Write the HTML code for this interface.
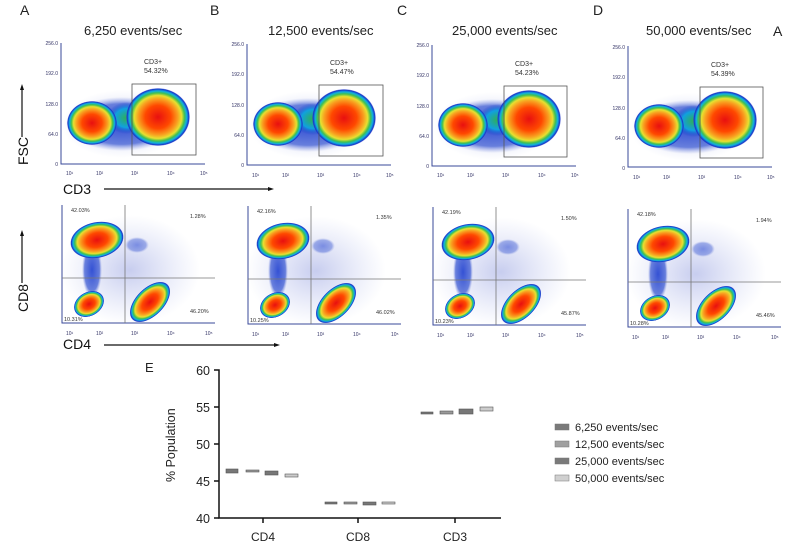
<!DOCTYPE html>
<html><head><meta charset="utf-8"><style>
body{margin:0;background:#fff;width:800px;height:550px;overflow:hidden}
svg{display:block;font-family:"Liberation Sans",sans-serif}
.t{font-size:5px;fill:#336}
</style></head><body>
<svg width="800" height="550" viewBox="0 0 800 550">
<defs>
<radialGradient id="hm">
<stop offset="0" stop-color="#e81010"/>
<stop offset="0.4" stop-color="#ff4800"/>
<stop offset="0.62" stop-color="#f8a020"/>
<stop offset="0.74" stop-color="#e8e030"/>
<stop offset="0.83" stop-color="#40c050"/>
<stop offset="0.9" stop-color="#10b0e0"/>
<stop offset="0.97" stop-color="#1830c8"/>
<stop offset="1" stop-color="#4050d0" stop-opacity="0"/>
</radialGradient>
<radialGradient id="halo">
<stop offset="0" stop-color="#2040d0" stop-opacity="0.9"/>
<stop offset="0.75" stop-color="#3050d0" stop-opacity="0.7"/>
<stop offset="1" stop-color="#8090e0" stop-opacity="0"/>
</radialGradient>
<radialGradient id="haze">
<stop offset="0" stop-color="#6070d0" stop-opacity="0.35"/>
<stop offset="1" stop-color="#8090e0" stop-opacity="0"/>
</radialGradient>
<radialGradient id="grn">
<stop offset="0" stop-color="#30b050"/>
<stop offset="0.6" stop-color="#10a0e0"/>
<stop offset="1" stop-color="#1830c8" stop-opacity="0"/>
</radialGradient>
<g id="top">
<ellipse cx="122" cy="124" rx="60" ry="34" fill="url(#haze)"/>
<ellipse cx="122" cy="124" rx="56" ry="27" fill="url(#halo)"/>
<ellipse cx="127" cy="118" rx="20" ry="16" fill="url(#grn)"/>
<ellipse cx="92" cy="123" rx="25" ry="22" fill="url(#hm)"/>
<ellipse cx="158" cy="117" rx="32" ry="29" fill="url(#hm)"/>
<polyline points="61,43 61,164 205,164" fill="none" stroke="#3a4a9a" stroke-width="1"/>
</g>
<g id="bot">
<ellipse cx="130" cy="270" rx="70" ry="55" fill="url(#haze)"/>
<ellipse cx="92" cy="270" rx="10" ry="28" fill="url(#halo)"/>
<ellipse cx="137" cy="245" rx="12" ry="8" fill="url(#halo)" opacity="0.6"/>
<ellipse cx="97" cy="240" rx="27" ry="18" fill="url(#hm)" transform="rotate(-12 97 240)"/>
<ellipse cx="89" cy="304" rx="16" ry="12" fill="url(#hm)" transform="rotate(-30 89 304)"/>
<ellipse cx="150" cy="302" rx="25" ry="14" fill="url(#hm)" transform="rotate(-45 150 302)"/>
<polyline points="62,205 62,323 215,323" fill="none" stroke="#3a4a9a" stroke-width="1"/>
<line x1="125" y1="205" x2="125" y2="323" stroke="#777" stroke-width="0.8"/>
<line x1="62" y1="278" x2="215" y2="278" stroke="#777" stroke-width="0.8"/>
</g>
</defs>

<g font-size="14" fill="#222">
<text x="20" y="15">A</text><text x="210" y="15">B</text><text x="397" y="15">C</text><text x="593" y="15">D</text><text x="773" y="36">A</text>
<text x="84" y="35" font-size="13">6,250 events/sec</text>
<text x="268" y="35" font-size="13">12,500 events/sec</text>
<text x="452" y="35" font-size="13">25,000 events/sec</text>
<text x="646" y="35" font-size="13">50,000 events/sec</text>
</g>

<g><use href="#top"/><rect x="132" y="84" width="64" height="71" fill="none" stroke="#555" stroke-width="0.8"/>
<text x="144" y="64" font-size="7" fill="#333">CD3+</text><text x="144" y="73" font-size="7" fill="#333">54.32%</text></g>
<g transform="translate(186,1)"><use href="#top"/><rect x="133" y="84" width="64" height="71" fill="none" stroke="#555" stroke-width="0.8"/>
<text x="144" y="64" font-size="7" fill="#333">CD3+</text><text x="144" y="73" font-size="7" fill="#333">54.47%</text></g>
<g transform="translate(371,2)"><use href="#top"/><rect x="133" y="84" width="63" height="71" fill="none" stroke="#555" stroke-width="0.8"/>
<text x="144" y="64" font-size="7" fill="#333">CD3+</text><text x="144" y="73" font-size="7" fill="#333">54.23%</text></g>
<g transform="translate(567,3)"><use href="#top"/><rect x="133" y="84" width="63" height="71" fill="none" stroke="#555" stroke-width="0.8"/>
<text x="144" y="64" font-size="7" fill="#333">CD3+</text><text x="144" y="73" font-size="7" fill="#333">54.39%</text></g>

<g class="t" text-anchor="end">
<text x="58" y="45">256.0</text><text x="58" y="75">192.0</text><text x="58" y="106">128.0</text><text x="58" y="136">64.0</text><text x="58" y="166">0</text>
<text x="244" y="46">256.0</text><text x="244" y="76">192.0</text><text x="244" y="107">128.0</text><text x="244" y="137">64.0</text><text x="244" y="167">0</text>
<text x="429" y="47">256.0</text><text x="429" y="77">192.0</text><text x="429" y="108">128.0</text><text x="429" y="138">64.0</text><text x="429" y="168">0</text>
<text x="625" y="49">256.0</text><text x="625" y="79">192.0</text><text x="625" y="110">128.0</text><text x="625" y="140">64.0</text><text x="625" y="170">0</text>
</g>
<g class="t">
<text x="66" y="175">10¹</text><text x="96" y="175">10²</text><text x="131" y="175">10³</text><text x="167" y="175">10⁴</text><text x="200" y="175">10⁵</text>
<text x="252" y="177">10¹</text><text x="282" y="177">10²</text><text x="317" y="177">10³</text><text x="353" y="177">10⁴</text><text x="386" y="177">10⁵</text>
<text x="437" y="177">10¹</text><text x="467" y="177">10²</text><text x="502" y="177">10³</text><text x="538" y="177">10⁴</text><text x="571" y="177">10⁵</text>
<text x="633" y="179">10¹</text><text x="663" y="179">10²</text><text x="698" y="179">10³</text><text x="734" y="179">10⁴</text><text x="767" y="179">10⁵</text>
</g>

<g><use href="#bot"/></g>
<g transform="translate(186,1)"><use href="#bot"/></g>
<g transform="translate(371,2)"><use href="#bot"/></g>
<g transform="translate(566,4)"><use href="#bot"/></g>
<g font-size="5.5" fill="#333">
<text x="71" y="212">42.03%</text><text x="190" y="218">1.28%</text><text x="190" y="313">46.20%</text><text x="64" y="321">10.31%</text>
<text x="257" y="213">42.16%</text><text x="376" y="219">1.35%</text><text x="376" y="314">46.02%</text><text x="250" y="322">10.25%</text>
<text x="442" y="214">42.19%</text><text x="561" y="220">1.50%</text><text x="561" y="315">45.87%</text><text x="435" y="323">10.23%</text>
<text x="637" y="216">42.18%</text><text x="756" y="222">1.94%</text><text x="756" y="317">45.46%</text><text x="630" y="325">10.28%</text>
</g>
<g class="t">
<text x="66" y="335">10¹</text><text x="96" y="335">10²</text><text x="131" y="335">10³</text><text x="167" y="335">10⁴</text><text x="205" y="335">10⁵</text>
<text x="252" y="336">10¹</text><text x="282" y="336">10²</text><text x="317" y="336">10³</text><text x="353" y="336">10⁴</text><text x="391" y="336">10⁵</text>
<text x="437" y="337">10¹</text><text x="467" y="337">10²</text><text x="502" y="337">10³</text><text x="538" y="337">10⁴</text><text x="576" y="337">10⁵</text>
<text x="632" y="339">10¹</text><text x="662" y="339">10²</text><text x="697" y="339">10³</text><text x="733" y="339">10⁴</text><text x="771" y="339">10⁵</text>
</g>

<g fill="#111" font-size="14">
<text x="63" y="194">CD3</text>
<text x="63" y="349">CD4</text>
<text transform="translate(28,165) rotate(-90)">FSC</text>
<text transform="translate(28,312) rotate(-90)">CD8</text>
</g>
<g stroke="#111" stroke-width="1.2">
<line x1="104" y1="189" x2="270" y2="189"/><line x1="104" y1="345" x2="276" y2="345"/>
<line x1="22" y1="137" x2="22" y2="88"/><line x1="22" y1="283" x2="22" y2="234"/>
</g>
<g fill="#111">
<polygon points="274,189 268,187 268,191"/><polygon points="280,345 274,343 274,347"/>
<polygon points="22,84 20,90 24,90"/><polygon points="22,230 20,236 24,236"/>
</g>

<text x="145" y="372" font-size="13" fill="#222">E</text>
<g stroke="#111" stroke-width="1.5" fill="none">
<polyline points="214,370 219,370 219,518 501,518"/>
<line x1="214" y1="407" x2="219" y2="407"/><line x1="214" y1="444" x2="219" y2="444"/><line x1="214" y1="481" x2="219" y2="481"/><line x1="214" y1="518" x2="219" y2="518"/>
<line x1="263" y1="518" x2="263" y2="523"/><line x1="358" y1="518" x2="358" y2="523"/><line x1="455" y1="518" x2="455" y2="523"/>
</g>
<g font-size="12.5" fill="#222" text-anchor="end">
<text x="210" y="375">60</text><text x="210" y="412">55</text><text x="210" y="449">50</text><text x="210" y="486">45</text><text x="210" y="523">40</text>
</g>
<g font-size="12" fill="#222" text-anchor="middle">
<text x="263" y="541">CD4</text><text x="358" y="541">CD8</text><text x="455" y="541">CD3</text>
</g>
<text transform="translate(175,482) rotate(-90)" font-size="12.5" fill="#222">% Population</text>
<g stroke="#555" stroke-width="0.6">
<rect x="226" y="469" width="12" height="4" fill="#777"/>
<rect x="246" y="470" width="13" height="2" fill="#999"/>
<rect x="265" y="471" width="13" height="4" fill="#777"/>
<rect x="285" y="474" width="13" height="3" fill="#ccc"/>
<rect x="325" y="502" width="12" height="2" fill="#777"/>
<rect x="344" y="502" width="13" height="2" fill="#999"/>
<rect x="363" y="502" width="13" height="3" fill="#777"/>
<rect x="382" y="502" width="13" height="2" fill="#ccc"/>
<rect x="421" y="412" width="12" height="2" fill="#777"/>
<rect x="440" y="411" width="13" height="3" fill="#999"/>
<rect x="459" y="409" width="14" height="5" fill="#777"/>
<rect x="480" y="407" width="13" height="4" fill="#ccc"/>
</g>
<g stroke="#777" stroke-width="0.5">
<rect x="555" y="424" width="14" height="6" fill="#7a7a7a"/>
<rect x="555" y="441" width="14" height="6" fill="#a0a0a0"/>
<rect x="555" y="458" width="14" height="6" fill="#7a7a7a"/>
<rect x="555" y="475" width="14" height="6" fill="#d0d0d0"/>
</g>
<g font-size="11" fill="#222">
<text x="575" y="431">6,250 events/sec</text>
<text x="575" y="448">12,500 events/sec</text>
<text x="575" y="465">25,000 events/sec</text>
<text x="575" y="482">50,000 events/sec</text>
</g>
</svg>
</body></html>
